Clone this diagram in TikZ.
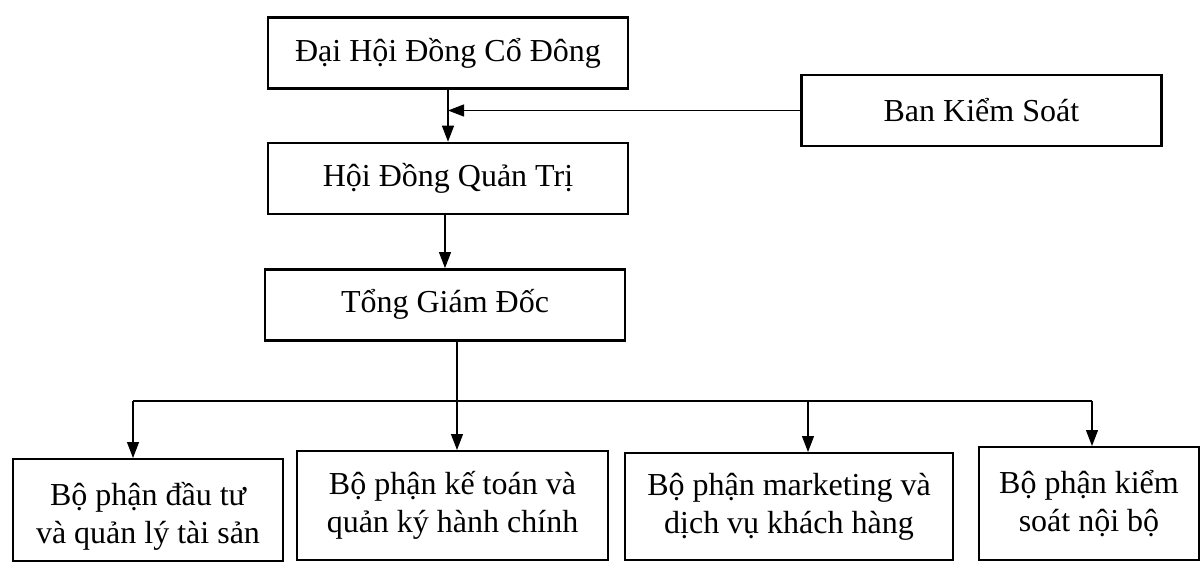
\documentclass[tikz,border=0pt]{standalone}
\usepackage{fontspec}
\setmainfont{Liberation Serif}
\usetikzlibrary{arrows.meta,positioning,calc}

\begin{document}
\begin{tikzpicture}[x=0.5pt,y=-0.5pt,
  font=\fontsize{16}{19}\selectfont, >={Triangle[width=6pt,length=8pt]},
  org/.style={draw,line width=1.2pt,minimum width=180pt,minimum height=35.5pt,align=center,inner sep=0pt},
  dept/.style={draw,line width=1.2pt,anchor=north,align=center,inner sep=0pt},
  link/.style={line width=0.6pt}]
  \useasboundingbox (0,0) rectangle (1200,562);
  \node[org] (dhdcd) at (448,53) {Đại Hội Đồng Cổ Đông};
  \node[org,below=26pt of dhdcd] (hdqt) {Hội Đồng Quản Trị};
  \node[org,below=26.5pt of hdqt,xshift=-1.5pt] (tgd) {Tổng Giám Đốc};
  \node[org,right=85.5pt of dhdcd,yshift=-28.75pt] (bks) {Ban Kiểm Soát};
  % bottom row
  \node[dept,minimum width=135pt,minimum height=51pt] (dautu) at (148,458)
    {\rule{0pt}{18pt}Bộ phận đầu tư\\và quản lý tài sản};
  \node[dept,minimum width=155.5pt,minimum height=54.5pt] (ketoan) at (452.5,450)
    {Bộ phận kế toán và\\quản ký hành chính};
  \node[dept,minimum width=164pt,minimum height=53.5pt] (mkt) at (789,452)
    {Bộ phận marketing và\\dịch vụ khách hàng};
  \node[dept,minimum width=110pt,minimum height=56.5pt] (ksnb) at (1089,446)
    {Bộ phận kiểm\\soát nội bộ};
  \draw[link,->] (dhdcd.south) -- (hdqt.north);
  \draw[link,->] (bks.west) -- (bks.west -| dhdcd.south);
  \draw[link,->] (hdqt.south -| tgd.north) -- (tgd.north);
  \coordinate (b1) at (133,401);
  \coordinate (b2) at (457,401);
  \coordinate (b3) at (808,401);
  \coordinate (b4) at (1092,401);
  \draw[link] (tgd.south -| b2) -- (b2);
  \draw[link] (b1) -- (b4);
  \foreach \pt/\dept in {b1/dautu,b2/ketoan,b3/mkt,b4/ksnb}
    \draw[link,->] (\pt) -- (\pt |- \dept.north);
\end{tikzpicture}
\end{document}
